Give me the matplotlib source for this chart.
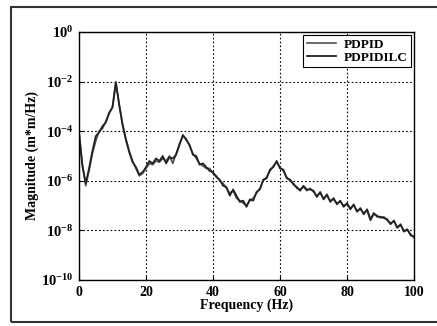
import numpy as np
import matplotlib
matplotlib.use("Agg")
import matplotlib.pyplot as plt
from matplotlib.patches import Rectangle

plt.rcParams['font.family'] = ['Liberation Serif', 'DejaVu Serif']
plt.rcParams['mathtext.fontset'] = 'custom'
plt.rcParams['mathtext.rm'] = 'Liberation Serif:bold'
plt.rcParams['mathtext.it'] = 'Liberation Serif:bold'
plt.rcParams['mathtext.bf'] = 'Liberation Serif:bold'

# frequency grid, 1 Hz steps
freq = np.arange(0, 101)

# log10 of magnitude
pdpid_log = [
    -4.0, -5.3, -6.2, -5.6, -4.9, -4.4, -4.0, -3.9, -3.6, -3.3,
    -3.0, -2.0, -2.9, -3.7, -4.3, -4.8, -5.2, -5.5, -5.8, -5.7,
    -5.5, -5.3, -5.35, -5.2, -5.25, -5.1, -5.2, -5.0, -5.3, -4.9,
    -4.5, -4.2, -4.3, -4.6, -4.9, -5.1, -5.3, -5.4, -5.5, -5.5,
    -5.7, -5.8, -6.0, -6.1, -6.3, -6.5, -6.4, -6.7, -6.8, -6.9,
    -7.0, -6.8, -6.7, -6.5, -6.3, -6.0, -5.85, -5.6, -5.4, -5.25,
    -5.45, -5.6, -5.85, -6.0, -6.1, -6.3, -6.35, -6.25, -6.4, -6.3,
    -6.45, -6.6, -6.5, -6.7, -6.6, -6.8, -6.75, -6.9, -6.85, -7.0,
    -6.95, -7.1, -7.0, -7.2, -7.15, -7.3, -7.2, -7.6, -7.35, -7.4,
    -7.5, -7.45, -7.6, -7.7, -7.65, -7.85, -7.8, -8.0, -8.0, -8.15,
    -8.3,
]
pdpidilc_log = [
    -4.1, -5.4, -6.1, -5.5, -4.8, -4.2, -4.05, -3.8, -3.65, -3.25,
    -3.05, -2.05, -2.95, -3.75, -4.35, -4.85, -5.25, -5.45, -5.75, -5.65,
    -5.45, -5.2, -5.3, -5.1, -5.2, -5.0, -5.3, -5.05, -5.1, -4.95,
    -4.55, -4.15, -4.35, -4.55, -4.95, -5.0, -5.35, -5.3, -5.45, -5.6,
    -5.65, -5.85, -5.95, -6.2, -6.25, -6.6, -6.35, -6.6, -6.85, -6.8,
    -7.05, -6.75, -6.8, -6.45, -6.35, -5.95, -5.9, -5.55, -5.45, -5.2,
    -5.5, -5.55, -5.9, -5.95, -6.15, -6.25, -6.4, -6.2, -6.35, -6.35,
    -6.4, -6.65, -6.45, -6.75, -6.55, -6.85, -6.7, -6.95, -6.8, -7.05,
    -6.9, -7.15, -6.95, -7.25, -7.1, -7.35, -7.15, -7.55, -7.3, -7.45,
    -7.45, -7.5, -7.55, -7.75, -7.6, -7.9, -7.75, -8.05, -7.95, -8.2,
    -8.25,
]
series_names = ['PDPID', 'PDPIDILC']

xticks = [0, 20, 40, 60, 80, 100]
yticks = [1e-10, 1e-8, 1e-6, 1e-4, 1e-2, 1e0]
ytick_labels = [r'$10^{-10}$', r'$10^{-8}$', r'$10^{-6}$', r'$10^{-4}$', r'$10^{-2}$', r'$10^{0}$']

fig = plt.figure(figsize=(4.37, 3.26), dpi=100)
ax = fig.add_axes([79 / 437, 46 / 326, 335 / 437, 248 / 326])

ax.semilogy(freq, 10.0 ** np.array(pdpid_log), color='#505050', lw=1.2, label=series_names[0])
ax.semilogy(freq, 10.0 ** np.array(pdpidilc_log), color='#222222', lw=1.3, label=series_names[1])

ax.set_xlim(0, 100)
ax.set_ylim(1e-10, 1e0)
ax.set_xticks(xticks)
ax.set_xticklabels([str(t) for t in xticks], fontsize=10, fontweight='bold')
ax.set_yticks(yticks)
ax.set_yticklabels(ytick_labels, fontsize=10.5)
ax.yaxis.set_minor_locator(matplotlib.ticker.NullLocator())
ax.tick_params(direction='in', length=3, width=0.8, pad=4)
ax.grid(True, which='major', color='black', linestyle=(0, (1.5, 2)), lw=0.8)
for s in ax.spines.values():
    s.set_linewidth(1.0)

ax.set_xlabel('Frequency (Hz)', fontsize=10, fontweight='bold', labelpad=0)
ax.set_ylabel('Magnitude (m*m/Hz)', fontsize=10, fontweight='bold')
ax.yaxis.set_label_coords(-0.12, 0.5)

leg = ax.legend(loc='upper right', fontsize=9.5, fancybox=False, framealpha=1,
                edgecolor='black', borderaxespad=0.25, handlelength=2.2,
                labelspacing=0.05, borderpad=0.25, handletextpad=0.6)
leg.get_frame().set_linewidth(0.8)
for t in leg.get_texts():
    t.set_fontweight('bold')

# scanned outer frame
fig.patches.append(Rectangle((11 / 437, 4 / 326), 1.0, 315.5 / 326, transform=fig.transFigure,
                             fill=False, edgecolor='#333333', lw=1.5, clip_on=False))

fig.savefig('out.png', dpi=100)
